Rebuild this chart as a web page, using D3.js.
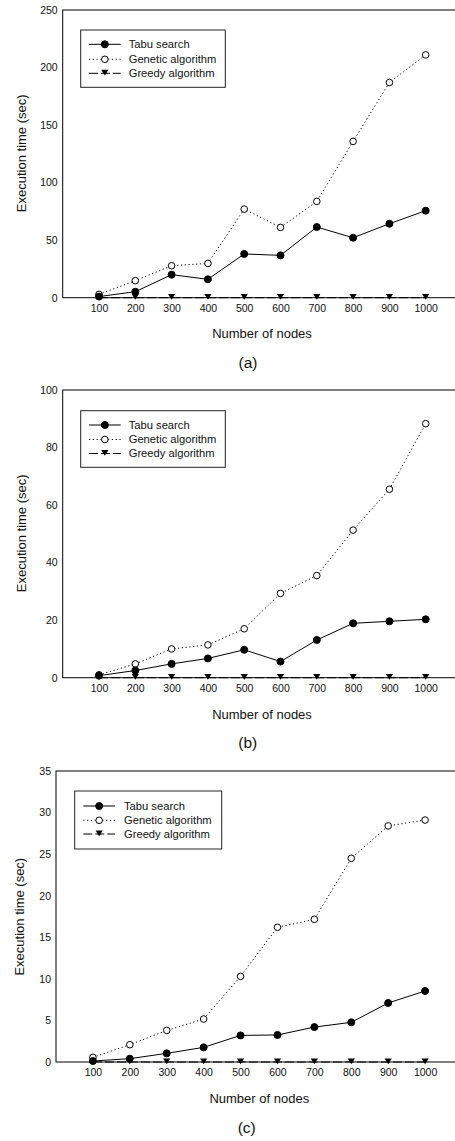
<!DOCTYPE html>
<html>
<head>
<meta charset="utf-8">
<script src="https://cdn.jsdelivr.net/npm/d3@7"></script>
<style>
  body { margin: 0; background: white; }
  svg { display: block; font-family: "Liberation Sans", Arial, sans-serif; }
</style>
</head>
<body>
<div id="vis"></div>
<script>
// data
let nodes = [100, 200, 300, 400, 500, 600, 700, 800, 900, 1000]

let tabuA = [1, 5.2, 20, 16, 38, 36.8, 61.4, 52.1, 64.3, 75.6]
let geneticA = [2.9, 14.8, 27.8, 29.8, 77, 61.1, 83.7, 135.8, 187, 211]
let greedyA = [0, 0, 0, 0, 0, 0, 0, 0, 0, 0]
let yTicksA = [0, 50, 100, 150, 200, 250]

let tabuB = [0.7, 2.5, 4.8, 6.7, 9.7, 5.6, 13.1, 18.9, 19.6, 20.3]
let geneticB = [1.0, 4.8, 10, 11.4, 17, 29.3, 35.5, 51.3, 65.5, 88.3]
let greedyB = [0, 0, 0, 0, 0, 0, 0, 0, 0, 0]
let yTicksB = [0, 20, 40, 60, 80, 100]

let tabuC = [0.12, 0.4, 1.04, 1.76, 3.2, 3.25, 4.2, 4.77, 7.1, 8.54]
let geneticC = [0.56, 2.08, 3.8, 5.17, 10.3, 16.2, 17.16, 24.5, 28.4, 29.1]
let greedyC = [0, 0, 0, 0, 0, 0, 0, 0, 0, 0]
let yTicksC = [0, 5, 10, 15, 20, 25, 30, 35]

let seriesNames = ['Tabu search', 'Genetic algorithm', 'Greedy algorithm']
let panelLabels = ['(a)', '(b)', '(c)']

let svg = d3.select('#vis')
  .append('svg')
  .attr('width', 455)
  .attr('height', 1141)

// panel geometry (pixels)
let panels = [
  { left: 62.7, top: 10, bottom: 297.7, ymax: 250, ticks: yTicksA, data: [tabuA, geneticA, greedyA],
    ytx: 21.7, yty: 153.3, xtx: 262, xty: 338, lx: 248, ly: 368,
    legend: { x: 80.7, y: 30, w: 144.6, h: 57.3, rows: [44.3, 59.3, 73.3], l1: 89, l2: 120.7, tx: 128.7 } },
  { left: 62.7, top: 390, bottom: 677.7, ymax: 100, ticks: yTicksB, data: [tabuB, geneticB, greedyB],
    ytx: 21.7, yty: 533.3, xtx: 262, xty: 719, lx: 247.7, ly: 748,
    legend: { x: 80.7, y: 410.7, w: 144.6, h: 56.6, rows: [425, 439.5, 453.5], l1: 89, l2: 120.7, tx: 128.7 } },
  { left: 56, top: 771, bottom: 1062, ymax: 35, ticks: yTicksC, data: [tabuC, geneticC, greedyC],
    ytx: 19, yty: 916.7, xtx: 259.3, xty: 1103, lx: 246.7, ly: 1133,
    legend: { x: 74.7, y: 791, w: 147, h: 58, rows: [806, 820.3, 834], l1: 83.3, l2: 115, tx: 124 } }
]

let lineDash = [null, '1.2,2.6', '9,3']

function drawMarker(g, kind, x, y) {
  if (kind === 0) {
    g.append('circle').attr('cx', x).attr('cy', y).attr('r', 3.5)
      .attr('fill', 'black').attr('stroke', 'black')
  } else if (kind === 1) {
    g.append('circle').attr('cx', x).attr('cy', y).attr('r', 3.3)
      .attr('fill', 'white').attr('stroke', 'black').attr('stroke-width', 1)
  } else {
    let s = 3.6
    g.append('path')
      .attr('d', `M${x - s},${y - s}L${x + s},${y - s}L${x},${y + s * 0.6}Z`)
      .attr('fill', 'black')
  }
}

panels.forEach((p, pi) => {
  let g = svg.append('g')

  let x = d3.scaleLinear().domain([0, 1100]).range([p.left, 462])
  let y = d3.scaleLinear().domain([0, p.ymax]).range([p.bottom, p.top])

  // frame
  g.append('rect')
    .attr('x', p.left).attr('y', p.top)
    .attr('width', 462 - p.left).attr('height', p.bottom - p.top)
    .attr('fill', 'none').attr('stroke', 'black').attr('stroke-width', 1)

  // axes (labels only, no tick marks)
  let xAxis = g.append('g')
    .attr('transform', `translate(0,${p.bottom})`)
    .call(d3.axisBottom(x).tickValues(nodes).tickFormat(d3.format('d')).tickSize(0).tickPadding(7))
  xAxis.select('.domain').remove()
  xAxis.selectAll('text').attr('font-size', 10.5).attr('fill', '#111')
    .style('font-family', '"Liberation Sans", Arial, sans-serif')

  let yAxis = g.append('g')
    .attr('transform', `translate(${p.left},0)`)
    .call(d3.axisLeft(y).tickValues(p.ticks).tickFormat(d3.format('d')).tickSize(0).tickPadding(5))
  yAxis.select('.domain').remove()
  yAxis.selectAll('text').attr('font-size', 10.5).attr('fill', '#111')
    .style('font-family', '"Liberation Sans", Arial, sans-serif')

  // titles
  g.append('text')
    .attr('transform', `translate(${p.ytx},${p.yty}) rotate(-90)`)
    .attr('text-anchor', 'middle').attr('dy', '0.35em')
    .attr('font-size', 13).attr('fill', '#111')
    .text('Execution time (sec)')
  g.append('text')
    .attr('x', p.xtx).attr('y', p.xty)
    .attr('text-anchor', 'middle')
    .attr('font-size', 13).attr('fill', '#111')
    .text('Number of nodes')
  g.append('text')
    .attr('x', p.lx).attr('y', p.ly)
    .attr('text-anchor', 'middle')
    .attr('font-size', 15.5).attr('fill', '#111')
    .text(panelLabels[pi])

  // lines then markers
  let line = d3.line().x((d, i) => x(nodes[i])).y(d => y(d))
  p.data.forEach((vals, si) => {
    g.append('path')
      .datum(vals)
      .attr('d', line)
      .attr('fill', 'none')
      .attr('stroke', 'black')
      .attr('stroke-width', 1)
      .attr('stroke-dasharray', lineDash[si])
  })
  // greedy first so circles sit on top like the original
  ;[2, 1, 0].forEach(si => {
    p.data[si].forEach((v, i) => drawMarker(g, si, x(nodes[i]), y(v)))
  })

  // legend
  let L = p.legend
  g.append('rect')
    .attr('x', L.x).attr('y', L.y).attr('width', L.w).attr('height', L.h)
    .attr('fill', 'white').attr('stroke', '#222').attr('stroke-width', 1)
  seriesNames.forEach((name, si) => {
    let ry = L.rows[si]
    g.append('line')
      .attr('x1', L.l1).attr('x2', L.l2).attr('y1', ry).attr('y2', ry)
      .attr('stroke', 'black').attr('stroke-width', 1)
      .attr('stroke-dasharray', lineDash[si])
    drawMarker(g, si, (L.l1 + L.l2) / 2, ry)
    g.append('text')
      .attr('x', L.tx).attr('y', ry).attr('dy', '0.35em')
      .attr('font-size', 11.2).attr('fill', '#111')
      .text(name)
  })
})
</script>
</body>
</html>
